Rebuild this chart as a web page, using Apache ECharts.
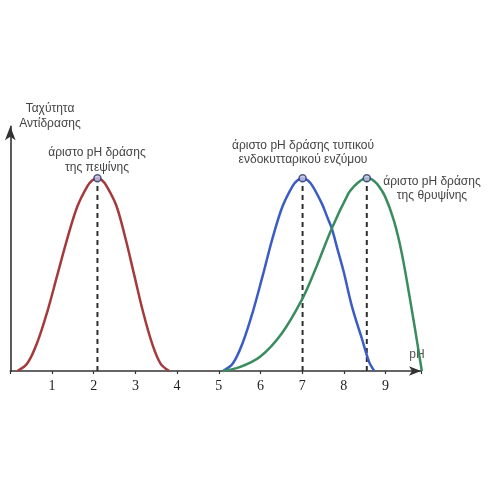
<!DOCTYPE html>
<html>
<head>
<meta charset="utf-8">
<script src="https://cdn.jsdelivr.net/npm/echarts@6/dist/echarts.min.js"></script>
<style>html,body{margin:0;padding:0;background:#fff}#c{width:500px;height:500px}</style>
</head>
<body>
<div id="c"></div>
<script>
// pH tick labels
const tickLabels = ['1','2','3','4','5','6','7','8','9'];
// pepsin (red)
const redPH   = [0.17, 0.41, 0.65, 0.89, 1.13, 1.37, 1.61, 1.85, 1.97, 2.09, 2.20, 2.31, 2.54, 2.76, 2.97, 3.18, 3.39, 3.60, 3.81];
const redRate = [0, 0.04, 0.15, 0.31, 0.50, 0.69, 0.855, 0.96, 0.99, 1, 0.99, 0.96, 0.86, 0.69, 0.50, 0.31, 0.15, 0.04, 0];
// typical intracellular enzyme (blue)
const bluePH   = [5.10, 5.34, 5.58, 5.82, 6.06, 6.29, 6.53, 6.77, 6.89, 7.01, 7.13, 7.25, 7.47, 7.60, 7.71, 7.85, 7.99, 8.20, 8.43, 8.60, 8.73];
const blueRate = [0, 0.04, 0.15, 0.31, 0.50, 0.69, 0.855, 0.96, 0.99, 1, 0.99, 0.96, 0.87, 0.80, 0.74, 0.63, 0.52, 0.33, 0.17, 0.05, 0];
// trypsin (green)
const greenPH   = [5.10, 5.50, 5.99, 6.51, 7.01, 7.31, 7.71, 8.11, 8.23, 8.35, 8.45, 8.55, 8.67, 8.80, 8.99, 9.20, 9.39, 9.63, 9.75, 9.87];
const greenRate = [0, 0.02, 0.074, 0.195, 0.377, 0.524, 0.74, 0.922, 0.955, 0.98, 0.995, 1, 0.995, 0.97, 0.905, 0.78, 0.61, 0.317, 0.16, 0];
// optimum points
const peakPH   = [2.09, 7.01, 8.55];
const peakRate = [1, 1, 1];
// texts
const yTitle = 'Ταχύτητα\nΑντίδρασης';
const xTitle = 'pH';
const notePepsin = 'άριστο pH δράσης\nτης πεψίνης';
const noteEnzyme = 'άριστο pH δράσης τυπικού\nενδοκυτταρικού ενζύμου';
const noteTrypsin = 'άριστο pH δράσης\nτης θρυψίνης';

const zip = (a, b) => a.map((v, i) => [v, b[i]]);
const FONT = '"Liberation Sans", Arial, sans-serif';

const chart = echarts.init(document.getElementById('c'), null, {renderer: 'canvas'});
const dashSeries = peakPH.map((p, i) => ({
  type: 'line', data: [[p, 0], [p, peakRate[i]]], symbol: 'none', silent: true, z: 1,
  lineStyle: {color: '#2e2e2e', width: 2, type: [5, 4]}
}));
const curve = (x, y, color) => ({
  type: 'line', data: zip(x, y), smooth: 0.35, symbol: 'none', z: 2, clip: false,
  lineStyle: {color: color, width: 2.5}
});
chart.setOption({
  animation: false,
  backgroundColor: '#fff',
  grid: {left: 10.3, right: 79, top: 126.3, bottom: 129, containLabel: false},
  xAxis: {
    type: 'value', min: 0, max: 9.85, interval: 1,
    axisLine: {show: true, symbol: ['none', 'arrow'], symbolSize: [7, 12], lineStyle: {color: '#333', width: 1.6}},
    axisTick: {show: true, length: 3, lineStyle: {color: '#333', width: 1.2}},
    axisLabel: {
      margin: 8, color: '#222', fontSize: 14, fontFamily: '"Liberation Serif", "DejaVu Serif", serif',
      formatter: v => (v >= 1 && v <= 9) ? tickLabels[Math.round(v) - 1] : ''
    },
    splitLine: {show: false}
  },
  yAxis: {
    type: 'value', min: 0, max: 1.27,
    axisLine: {show: true, symbol: ['none', 'arrow'], symbolSize: [8, 14], lineStyle: {color: '#333', width: 1.6}},
    axisTick: {show: false}, axisLabel: {show: false}, splitLine: {show: false}
  },
  series: [
    ...dashSeries,
    curve(redPH, redRate, '#a53a3d'),
    curve(bluePH, blueRate, '#3b5cc4'),
    curve(greenPH, greenRate, '#3a8c5f'),
    {type: 'scatter', data: zip(peakPH, peakRate), symbol: 'circle', symbolSize: 7, z: 5,
     itemStyle: {color: '#c4c7e6', borderColor: '#2b3470', borderWidth: 1.5}}
  ],
  graphic: [
    {type: 'text', x: 50, y: 116, style: {text: yTitle, fill: '#444', font: '12px ' + FONT, align: 'center', verticalAlign: 'middle', lineHeight: 15}},
    {type: 'text', x: 417, y: 355, style: {text: xTitle, fill: '#555', font: '12px ' + FONT, align: 'center', verticalAlign: 'middle'}},
    {type: 'text', x: 97, y: 160, style: {text: notePepsin, fill: '#444', font: '12px ' + FONT, align: 'center', verticalAlign: 'middle', lineHeight: 15}},
    {type: 'text', x: 303, y: 153, style: {text: noteEnzyme, fill: '#444', font: '12px ' + FONT, align: 'center', verticalAlign: 'middle', lineHeight: 14}},
    {type: 'text', x: 432, y: 189, style: {text: noteTrypsin, fill: '#444', font: '12px ' + FONT, align: 'center', verticalAlign: 'middle', lineHeight: 14}}
  ]
});
</script>
</body>
</html>
